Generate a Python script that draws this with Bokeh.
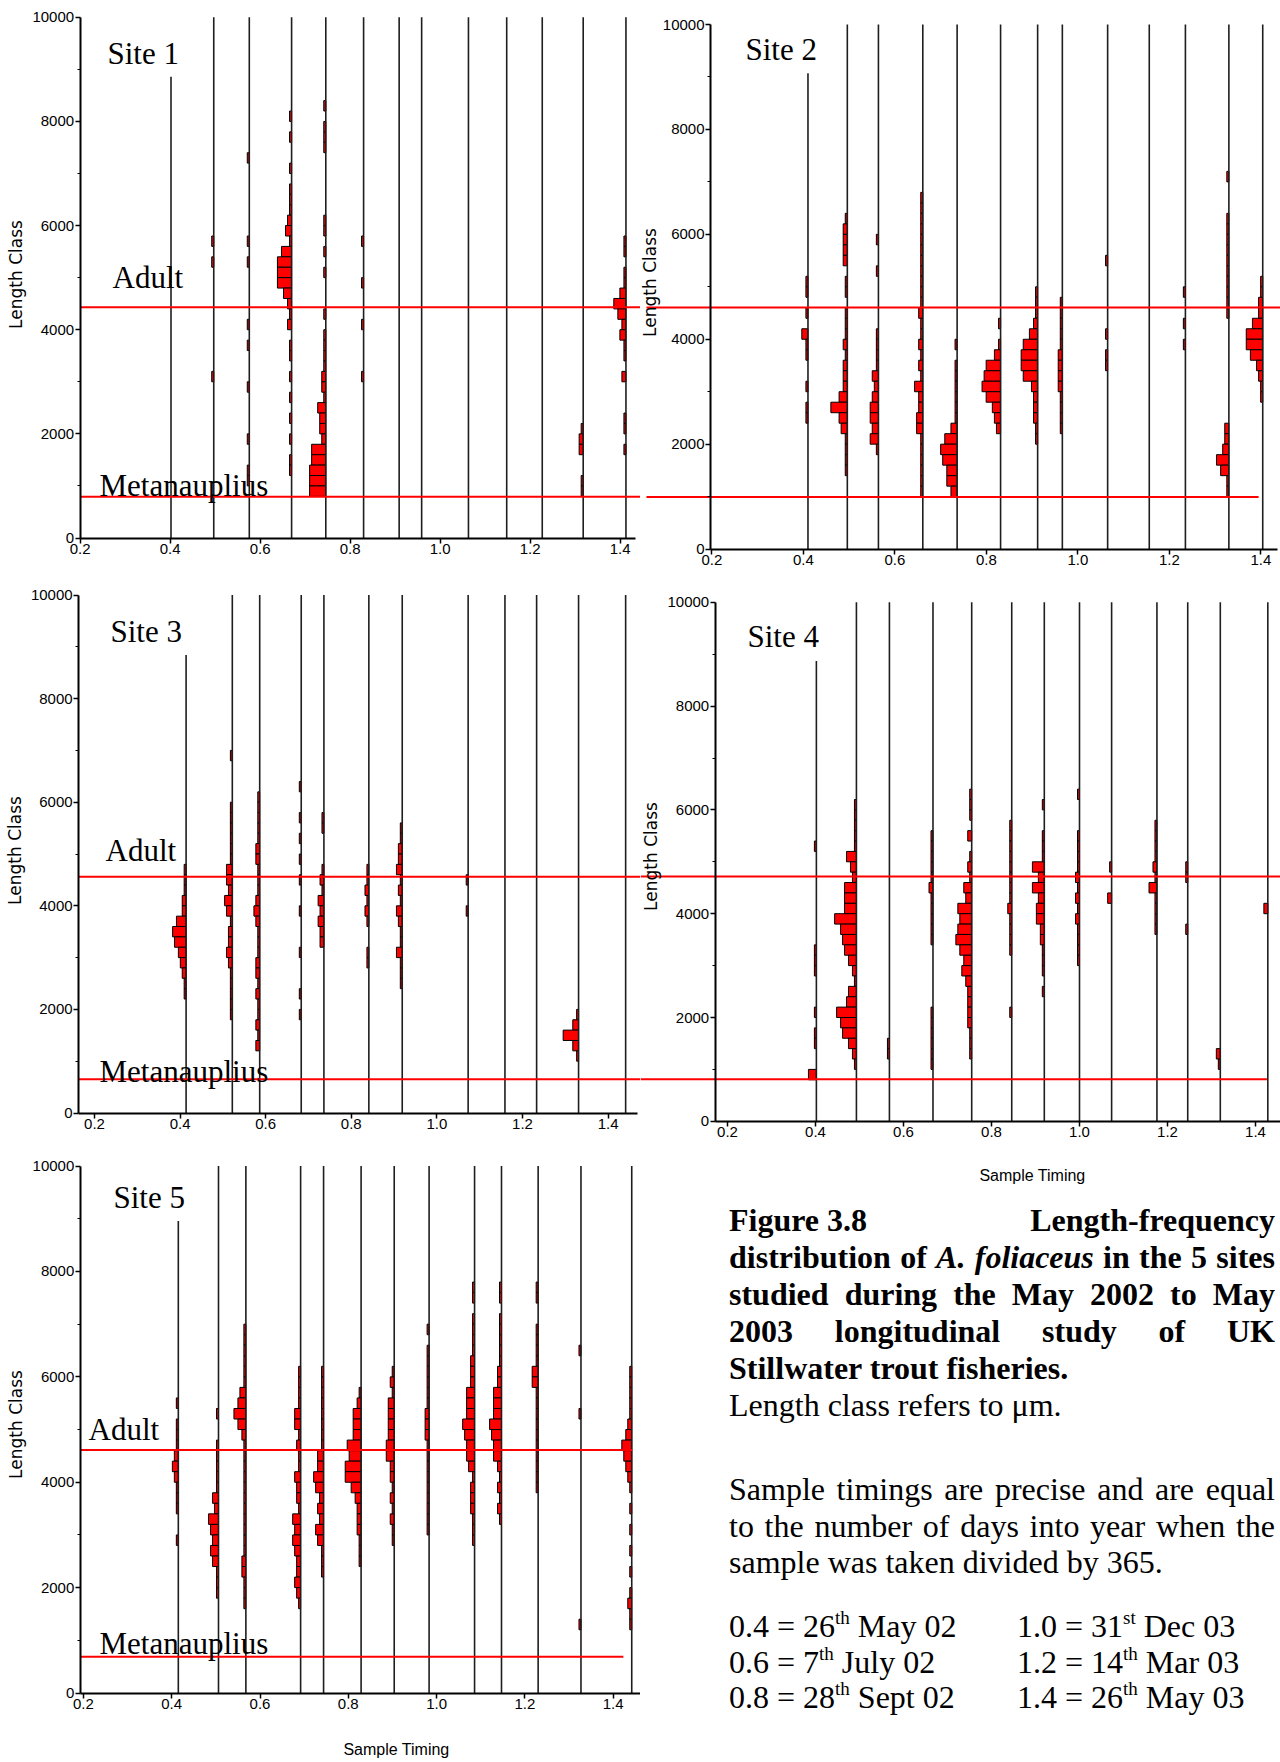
import math
from bokeh.plotting import figure
from bokeh.layouts import row, column
from bokeh.models import (ColumnDataSource, FixedTicker, PrintfTickFormatter,
                          Label, Div, Range1d)
from bokeh.embed import file_html
from bokeh.resources import INLINE

# ---------------------------------------------------------------- data
bin_width = 200            # length class width (um)
y_major = [0, 2000, 4000, 6000, 8000, 10000]
y_minor = [1000, 3000, 5000, 7000, 9000]
x_major = [0.2, 0.4, 0.6, 0.8, 1.0, 1.2, 1.4]

site_names = ["Site 1", "Site 2", "Site 3", "Site 4", "Site 5"]

# Site 1
site1_times = [0.402, 0.497, 0.576, 0.670, 0.746, 0.830, 0.909, 0.959, 1.063, 1.148, 1.227, 1.318, 1.413]
site1_tops = [8860] + [10000] * 12
site1_adult = 4430
site1_meta = 790
site1_hist = [
    {},
    {5600: 1, 5200: 1, 3000: 1},
    {7200: 1, 5600: 1, 5200: 1, 4000: 1, 3600: 1, 2800: 1, 1800: 1, 1200: 1, 1000: 1},
    {8000: 1, 7600: 1, 7000: 1, 6600: 1, 6400: 1, 6200: 1, 6000: 2, 5800: 3, 5600: 1, 5400: 5, 5200: 7,
     5000: 7, 4800: 7, 4600: 4, 4400: 2, 4200: 1, 4000: 2, 3600: 1, 3400: 1, 3000: 1, 2600: 1, 2200: 1,
     1800: 1, 1400: 1, 1200: 1},
    {8200: 1, 7800: 1, 7600: 1, 7400: 1, 6000: 1, 5800: 1, 5400: 1, 5000: 1, 4200: 1, 3800: 1, 3600: 1,
     3400: 1, 3200: 1, 3000: 2, 2800: 2, 2600: 1, 2400: 4, 2200: 3, 2000: 3, 1800: 2, 1600: 7, 1400: 7,
     1200: 8, 1000: 8, 800: 8},
    {5600: 1, 4800: 1, 4000: 1, 3000: 1},
    {}, {}, {}, {}, {},
    {2000: 1, 1800: 2, 1600: 2, 1000: 1, 800: 1},
    {5600: 1, 5400: 1, 5000: 1, 4800: 1, 4600: 3, 4400: 6, 4200: 4, 4000: 2, 3800: 3, 3600: 1, 3400: 1,
     3000: 2, 2200: 1, 2000: 1, 1600: 1},
]

# Site 2
site2_times = [0.410, 0.496, 0.564, 0.661, 0.736, 0.831, 0.912, 0.966, 1.065, 1.156, 1.235, 1.330, 1.404]
site2_tops = [9070] + [10000] * 12
site2_adult = 4605
site2_meta = 993
site2_hist = [
    {5000: 1, 4800: 1, 4400: 1, 4000: 3, 3800: 1, 3600: 1, 3000: 1, 2600: 1, 2400: 1},
    {6200: 1, 6000: 2, 5800: 2, 5600: 2, 5400: 2, 5000: 1, 4800: 1, 4400: 1, 4200: 1, 4000: 1, 3800: 2,
     3600: 1, 3400: 2, 3200: 2, 3000: 2, 2800: 4, 2600: 8, 2400: 4, 2200: 3, 2000: 1, 1800: 1, 1600: 1,
     1400: 1},
    {5800: 1, 5200: 1, 4000: 1, 3800: 1, 3600: 1, 3400: 1, 3200: 3, 3000: 2, 2800: 3, 2600: 4, 2400: 4,
     2200: 3, 2000: 4, 1800: 1},
    {6600: 1, 6400: 1, 6200: 1, 6000: 1, 5800: 1, 5600: 1, 5400: 1, 5200: 1, 5000: 1, 4800: 1, 4600: 1,
     4400: 2, 4200: 1, 4000: 1, 3800: 2, 3600: 1, 3400: 2, 3200: 1, 3000: 4, 2800: 2, 2600: 2, 2400: 3,
     2200: 3, 2000: 1, 1800: 1, 1600: 1, 1400: 1, 1200: 1, 1000: 1},
    {3800: 1, 3400: 1, 3200: 1, 3000: 1, 2800: 1, 2600: 1, 2400: 1, 2200: 3, 2000: 6, 1800: 8, 1600: 7,
     1400: 5, 1200: 5, 1000: 3},
    {4200: 1, 3800: 1, 3600: 3, 3400: 7, 3200: 8, 3000: 9, 2800: 7, 2600: 4, 2400: 3, 2200: 2},
    {4800: 1, 4600: 1, 4400: 1, 4200: 2, 4000: 4, 3800: 7, 3600: 8, 3400: 8, 3200: 7, 3000: 3, 2800: 2,
     2600: 2, 2400: 2, 2200: 1, 2000: 1},
    {4600: 1, 4400: 1, 4200: 1, 4000: 1, 3800: 1, 3600: 2, 3400: 2, 3200: 2, 3000: 2, 2800: 1, 2600: 1,
     2400: 1, 2200: 1},
    {5400: 1, 4000: 1, 3600: 1, 3400: 1},
    {},
    {4800: 1, 4200: 1, 3800: 1},
    {7000: 1, 6200: 1, 6000: 1, 5800: 1, 5600: 1, 5400: 1, 5200: 1, 5000: 1, 4800: 1, 4600: 1, 4400: 1,
     2200: 2, 2000: 2, 1800: 3, 1600: 6, 1400: 4, 1200: 1, 1000: 1},
    {5000: 1, 4800: 1, 4600: 2, 4400: 2, 4200: 5, 4000: 8, 3800: 8, 3600: 6, 3400: 3, 3200: 2, 3000: 1,
     2800: 1},
]

# Site 3
site3_times = [0.414, 0.522, 0.586, 0.683, 0.736, 0.841, 0.919, 1.073, 1.159, 1.233, 1.331, 1.441]
site3_tops = [8840] + [10000] * 11
site3_adult = 4562
site3_meta = 652
site3_hist = [
    {4600: 1, 4400: 1, 4200: 1, 4000: 2, 3800: 2, 3600: 5, 3400: 7, 3200: 6, 3000: 4, 2800: 3, 2600: 2,
     2400: 1, 2200: 1},
    {6800: 1, 5800: 1, 5600: 1, 5400: 1, 5200: 1, 5000: 1, 4800: 1, 4600: 3, 4400: 3, 4200: 2, 4000: 4,
     3800: 3, 3600: 1, 3400: 2, 3200: 2, 3000: 3, 2800: 2, 2600: 1, 2400: 1, 2200: 1, 2000: 1, 1800: 1},
    {6000: 1, 5800: 1, 5600: 1, 5400: 1, 5200: 1, 5000: 2, 4800: 2, 4600: 1, 4400: 1, 4200: 1, 4000: 2,
     3800: 3, 3600: 2, 3400: 1, 3200: 1, 3000: 1, 2800: 2, 2600: 2, 2400: 1, 2200: 2, 2000: 1, 1800: 1,
     1600: 2, 1400: 1, 1200: 2},
    {6200: 1, 5600: 1, 5200: 1, 4800: 1, 4400: 1, 3800: 1, 3000: 1, 2200: 1, 1800: 1},
    {5600: 1, 5400: 1, 4600: 1, 4400: 2, 4200: 1, 4000: 3, 3800: 2, 3600: 3, 3400: 2, 3200: 2},
    {4600: 1, 4400: 1, 4200: 2, 4000: 1, 3800: 2, 3600: 1, 3000: 1, 2800: 1},
    {5400: 1, 5200: 1, 5000: 2, 4800: 2, 4600: 3, 4400: 1, 4200: 2, 4000: 1, 3800: 3, 3600: 2, 3400: 1,
     3200: 1, 3000: 3, 2800: 1, 2600: 1, 2400: 1},
    {4400: 1, 3800: 1},
    {}, {},
    {1800: 1, 1600: 3, 1400: 8, 1200: 3, 1000: 1},
    {},
]

# Site 4
site4_times = [0.402, 0.493, 0.568, 0.667, 0.755, 0.846, 0.920, 1.000, 1.073, 1.176, 1.246, 1.320, 1.428]
site4_tops = [8870] + [10000] * 12
site4_adult = 4717
site4_meta = 811
site4_hist = [
    {5200: 1, 3200: 1, 3000: 1, 2800: 1, 2000: 1, 1600: 1, 1400: 1, 800: 4},
    {6000: 1, 5800: 1, 5600: 1, 5400: 1, 5200: 1, 5000: 5, 4800: 3, 4600: 2, 4400: 6, 4200: 6, 4000: 6,
     3800: 11, 3600: 8, 3400: 7, 3200: 6, 3000: 4, 2800: 2, 2600: 1, 2400: 4, 2200: 5, 2000: 10, 1800: 8,
     1600: 7, 1400: 4, 1200: 2, 1000: 1},
    {1400: 1, 1200: 1},
    {5400: 1, 5200: 1, 5000: 1, 4800: 1, 4600: 1, 4400: 2, 4200: 1, 4000: 1, 3800: 1, 3600: 1, 3400: 1,
     2000: 1, 1800: 1, 1600: 1, 1400: 1, 1200: 1, 1000: 1},
    {6200: 1, 6000: 1, 5800: 1, 5400: 2, 5000: 1, 4800: 2, 4600: 1, 4400: 4, 4200: 3, 4000: 7, 3800: 6,
     3600: 7, 3400: 8, 3200: 6, 3000: 4, 2800: 5, 2600: 3, 2400: 2, 2200: 2, 2000: 2, 1800: 2, 1600: 1,
     1400: 1, 1200: 1},
    {5600: 1, 5400: 1, 5200: 1, 5000: 1, 4800: 1, 4600: 1, 4400: 1, 4200: 1, 4000: 2, 3800: 1, 3600: 1,
     3400: 1, 3200: 1, 2000: 1},
    {6000: 1, 5400: 1, 5200: 1, 5000: 1, 4800: 6, 4600: 3, 4400: 6, 4200: 3, 4000: 4, 3800: 4, 3600: 2,
     3400: 2, 3200: 1, 3000: 1, 2800: 1, 2400: 1},
    {6200: 1, 5400: 1, 5200: 1, 5000: 1, 4800: 1, 4600: 2, 4400: 1, 4200: 2, 4000: 1, 3800: 2, 3600: 1,
     3400: 1, 3200: 1, 3000: 1},
    {4800: 1, 4200: 2},
    {5600: 1, 5400: 1, 5200: 1, 5000: 1, 4800: 2, 4600: 1, 4400: 4, 4200: 1, 4000: 1, 3800: 1, 3600: 1},
    {4800: 1, 4600: 1, 3600: 1},
    {1200: 2, 1000: 1},
    {4000: 2},
]

# Site 5
site5_times = [0.415, 0.506, 0.568, 0.692, 0.744, 0.829, 0.904, 0.983, 1.086, 1.147, 1.230, 1.327, 1.442]
site5_tops = [8960] + [10000] * 12
site5_adult = 4614
site5_meta = 689
site5_hist = [
    {5400: 1, 5000: 1, 4800: 1, 4600: 1, 4400: 2, 4200: 3, 4000: 2, 3800: 1, 3600: 1, 3400: 1, 2800: 1},
    {5200: 1, 4600: 1, 4400: 1, 4200: 1, 4000: 1, 3800: 1, 3600: 3, 3400: 2, 3200: 5, 3000: 4, 2800: 3,
     2600: 4, 2400: 3, 2200: 1, 2000: 1, 1800: 1},
    {6800: 1, 6600: 1, 6400: 1, 6200: 1, 6000: 1, 5800: 1, 5600: 3, 5400: 4, 5200: 6, 5000: 4, 4800: 2,
     4600: 1, 4400: 1, 4200: 1, 4000: 1, 3800: 1, 3600: 1, 3400: 1, 3200: 1, 3000: 1, 2800: 1, 2600: 1,
     2400: 2, 2200: 2, 2000: 1, 1800: 1, 1600: 1},
    {6000: 1, 5800: 1, 5600: 1, 5400: 1, 5200: 3, 5000: 3, 4800: 1, 4600: 2, 4400: 1, 4200: 1, 4000: 3,
     3800: 2, 3600: 2, 3400: 1, 3200: 4, 3000: 3, 2800: 4, 2600: 3, 2400: 2, 2200: 2, 2000: 3, 1800: 2,
     1600: 1},
    {6000: 1, 5800: 1, 5600: 1, 5400: 1, 5200: 1, 5000: 1, 4800: 1, 4600: 1, 4400: 3, 4200: 3, 4000: 5,
     3800: 4, 3600: 2, 3400: 3, 3200: 2, 3000: 4, 2800: 3, 2600: 1, 2400: 1, 2200: 1},
    {5600: 1, 5400: 2, 5200: 4, 5000: 4, 4800: 4, 4600: 7, 4400: 6, 4200: 8, 4000: 8, 3800: 5, 3600: 3,
     3400: 2, 3200: 2, 3000: 2, 2800: 1, 2600: 1, 2400: 1},
    {6000: 1, 5800: 2, 5600: 1, 5400: 3, 5200: 3, 5000: 3, 4800: 3, 4600: 4, 4400: 4, 4200: 2, 4000: 2,
     3800: 1, 3600: 2, 3400: 1, 3200: 2, 3000: 1, 2800: 1},
    {6800: 1, 6400: 1, 6200: 1, 6000: 1, 5800: 1, 5600: 1, 5400: 1, 5200: 2, 5000: 2, 4800: 2, 4600: 1,
     4400: 1, 4200: 1, 4000: 1, 3800: 1, 3600: 1, 3400: 1, 3200: 1, 3000: 1},
    {7600: 1, 7400: 1, 7000: 1, 6800: 1, 6600: 1, 6400: 1, 6200: 2, 6000: 2, 5800: 2, 5600: 4, 5400: 4,
     5200: 4, 5000: 6, 4800: 5, 4600: 4, 4400: 4, 4200: 3, 4000: 1, 3800: 2, 3600: 2, 3400: 2, 3200: 1,
     3000: 1, 2800: 1},
    {7600: 1, 7400: 1, 7000: 1, 6800: 1, 6600: 1, 6400: 1, 6200: 1, 6000: 2, 5800: 2, 5600: 4, 5400: 4,
     5200: 4, 5000: 6, 4800: 5, 4600: 4, 4400: 4, 4200: 2, 4000: 1, 3800: 2, 3600: 1, 3400: 2, 3200: 1},
    {7600: 1, 7400: 1, 6800: 1, 6600: 1, 6400: 1, 6200: 1, 6000: 3, 5800: 3, 5600: 1, 5400: 1, 5200: 1,
     5000: 1, 4800: 1, 4600: 1, 4400: 1, 4200: 1, 4000: 1, 3800: 1},
    {6400: 1, 5200: 1, 1200: 1},
    {6000: 1, 5800: 1, 5600: 1, 5400: 1, 5200: 1, 5000: 2, 4800: 3, 4600: 5, 4400: 4, 4200: 3, 4000: 2,
     3800: 1, 3400: 1, 3000: 1, 2600: 1, 2200: 1, 1800: 1, 1600: 2, 1400: 1, 1200: 1},
]

# ---------------------------------------------------------------- layout / style
COUNT_W = 0.0045        # x-width of one count in a histogram bar
SERIF = "Liberation Serif"
TICK_FONT = "Liberation Sans"

geoms = [
    dict(W=640, H=560, px02=79.6, ppu=450.0, py10k=16.8, py0=537.5, axis_x=0.2, axis_x_end=1.434,
         adult_span=(0.2, None), meta_span=(0.2, None),
         site_xy=(107, 53), adult_xy=(112, 277), meta_xy=(99, 485), yl_xy=(15, 274), xl_xy=None),
    dict(W=640, H=580, px02=71.4, ppu=457.5, py10k=24.0, py0=548.6, axis_x=0.197, axis_x_end=1.436,
         adult_span=(0.057, None), meta_span=(0.057, 1.395),
         site_xy=(105, 49), adult_xy=None, meta_xy=None, yl_xy=(9, 282), xl_xy=None),
    dict(W=640, H=590, px02=94.0, ppu=428.0, py10k=34.5, py0=552.5, axis_x=0.163, axis_x_end=1.469,
         adult_span=(0.163, None), meta_span=(0.163, None),
         site_xy=(110, 71), adult_xy=(105, 290), meta_xy=(99, 511), yl_xy=(14, 290), xl_xy=None),
    dict(W=640, H=610, px02=87.0, ppu=440.0, py10k=21.8, py0=540.8, axis_x=0.172, axis_x_end=None,
         adult_span=(None, None), meta_span=(None, 1.426),
         site_xy=(107, 55.5), adult_xy=None, meta_xy=None, yl_xy=(10, 276), xl_xy=(392, 595)),
    dict(W=640, H=612, px02=82.9, ppu=441.5, py10k=15.6, py0=542.5, axis_x=0.193, axis_x_end=None,
         adult_span=(0.193, 1.443), meta_span=(0.193, 1.423),
         site_xy=(113, 47), adult_xy=(88, 279), meta_xy=(99, 493), yl_xy=(15, 274), xl_xy=(396, 599)),
]

sites = [
    (site1_times, site1_tops, site1_hist, site1_adult, site1_meta),
    (site2_times, site2_tops, site2_hist, site2_adult, site2_meta),
    (site3_times, site3_tops, site3_hist, site3_adult, site3_meta),
    (site4_times, site4_tops, site4_hist, site4_adult, site4_meta),
    (site5_times, site5_tops, site5_hist, site5_adult, site5_meta),
]


def make_panel(g, data, name):
    times, tops, hist, adult, meta = data
    W, H = g["W"], g["H"]
    x0 = 0.2 - g["px02"] / g["ppu"]
    x1 = x0 + W / g["ppu"]
    span = g["py0"] - g["py10k"]
    y1 = 10000 + g["py10k"] / span * 10000
    y0 = -(H - g["py0"]) / span * 10000

    def px2x(px):
        return x0 + px / g["ppu"]

    def px2y(py):
        return y1 - py / span * 10000

    p = figure(width=W, height=H, x_range=Range1d(x0, x1), y_range=Range1d(y0, y1),
               output_backend="svg", toolbar_location=None, min_border=0,
               background_fill_color="white", border_fill_color="white")
    p.outline_line_color = None
    p.grid.visible = False

    # axes drawn at their data locations
    p.xaxis.fixed_location = 0
    p.yaxis.fixed_location = g["axis_x"]
    p.xaxis.bounds = (g["axis_x"], g["axis_x_end"] if g["axis_x_end"] else x1)
    p.yaxis.bounds = (0, 10000)
    p.yaxis.ticker = FixedTicker(ticks=y_major, minor_ticks=y_minor)
    p.xaxis.ticker = FixedTicker(ticks=x_major, minor_ticks=[])
    p.yaxis.formatter = PrintfTickFormatter(format="%d")
    p.xaxis.formatter = PrintfTickFormatter(format="%.1f")
    for ax in (p.xaxis, p.yaxis):
        ax.axis_line_color = "black"
        ax.axis_line_width = 2
        ax.major_tick_line_color = "black"
        ax.major_tick_line_width = 1.5
        ax.major_tick_out = 5
        ax.major_tick_in = 0
        ax.minor_tick_line_color = "black"
        ax.minor_tick_out = 3
        ax.minor_tick_in = 0
        ax.major_label_standoff = 1
        ax.major_label_text_font = TICK_FONT
        ax.major_label_text_font_size = "15px"
        ax.major_label_text_color = "black"

    # histogram bars
    L, R, B, T = [], [], [], []
    for t, h in zip(times, hist):
        for length, count in h.items():
            L.append(t - count * COUNT_W)
            R.append(t)
            B.append(length)
            T.append(length + bin_width)
    p.quad(left=L, right=R, bottom=B, top=T, fill_color="#ff0000",
           line_color="black", line_width=1)

    # sample lines
    p.segment(x0=times, y0=[0] * len(times), x1=times, y1=tops,
              line_color="#1e1e1e", line_width=1.6)

    # thresholds
    a0, a1 = g["adult_span"]
    m0, m1 = g["meta_span"]
    a0 = x0 if a0 is None else a0
    a1 = x1 if a1 is None else a1
    m0 = x0 if m0 is None else m0
    m1 = x1 if m1 is None else m1
    p.segment(x0=[a0, m0], y0=[adult, meta], x1=[a1, m1], y1=[adult, meta],
              line_color="#ff0000", line_width=2)

    def lab(xy, text, size="31px", font=SERIF, **kw):
        p.add_layout(Label(x=px2x(xy[0]), y=px2y(xy[1]), text=text, text_font=font,
                           text_font_size=size, text_color="black", **kw))

    lab(g["site_xy"], name, text_baseline="alphabetic")
    if g["adult_xy"]:
        lab(g["adult_xy"], "Adult", text_baseline="alphabetic")
    if g["meta_xy"]:
        lab(g["meta_xy"], "Metanauplius", text_baseline="alphabetic")
    lab(g["yl_xy"], "Length Class", size="17px", font="DejaVu Sans",
        angle=math.pi / 2, text_align="center", text_baseline="middle")
    if g["xl_xy"]:
        lab(g["xl_xy"], "Sample Timing", size="16px", font=TICK_FONT,
            text_align="center", text_baseline="middle")
    return p


panels = [make_panel(g, d, n) for g, d, n in zip(geoms, sites, site_names)]

# ---------------------------------------------------------------- caption
def ln(top, html, bold=False, justify=False):
    st = "position:absolute;left:89px;width:546px;white-space:nowrap;top:%.1fpx;" % top
    if bold:
        st += "font-weight:bold;"
    if justify:
        st += "text-align:justify;text-align-last:justify;white-space:normal;"
    return '<div style="%s">%s</div>' % (st, html)


def spread(top, left_html, right_html):
    st = ("position:absolute;left:89px;width:546px;white-space:nowrap;top:%.1fpx;"
          "font-weight:bold;display:flex;justify-content:space-between;" % top)
    return '<div style="%s"><span>%s</span><span>%s</span></div>' % (st, left_html, right_html)


def sup(s):
    return ('<span style="font-size:19px;position:relative;top:-13px;">%s</span>' % s)


def dates(a, b):
    return ('<span style="display:inline-block;width:288px">%s</span>%s' % (a, b))


base = 29.3
lines = [
    spread(40.9 - base, "Figure 3.8", "Length-frequency"),
    ln(77.9 - base, "distribution of <i>A. foliaceus</i> in the 5 sites", True, True),
    ln(114.9 - base, "studied during the May 2002 to May", True, True),
    ln(151.9 - base, "2003 longitudinal study of UK", True, True),
    ln(188.9 - base, "Stillwater trout fisheries.", True),
    ln(225.9 - base, "Length class refers to &mu;m."),
    ln(309.9 - base, "Sample timings are precise and are equal", False, True),
    ln(347.0 - base, "to the number of days into year when the", False, True),
    ln(383.6 - base, "sample was taken divided by 365."),
    ln(447.3 - base, dates("0.4 = 26" + sup("th") + " May 02", "1.0 = 31" + sup("st") + " Dec 03")),
    ln(482.9 - base, dates("0.6 = 7" + sup("th") + " July 02", "1.2 = 14" + sup("th") + " Mar 03")),
    ln(518.2 - base, dates("0.8 = 28" + sup("th") + " Sept 02", "1.4 = 26" + sup("th") + " May 03")),
]
caption_html = ('<div style="position:relative;width:640px;height:572px;'
                "font-family:'Liberation Serif','Times New Roman',serif;font-size:32px;"
                'line-height:37px;color:#000;">' + "".join(lines) + "</div>")
caption = Div(text=caption_html, width=640, height=572, margin=0)

layout = row(column(panels[0], panels[2], panels[4], spacing=0),
             column(panels[1], panels[3], caption, spacing=0), spacing=0)

open("out.html", "w").write(file_html(layout, INLINE))
